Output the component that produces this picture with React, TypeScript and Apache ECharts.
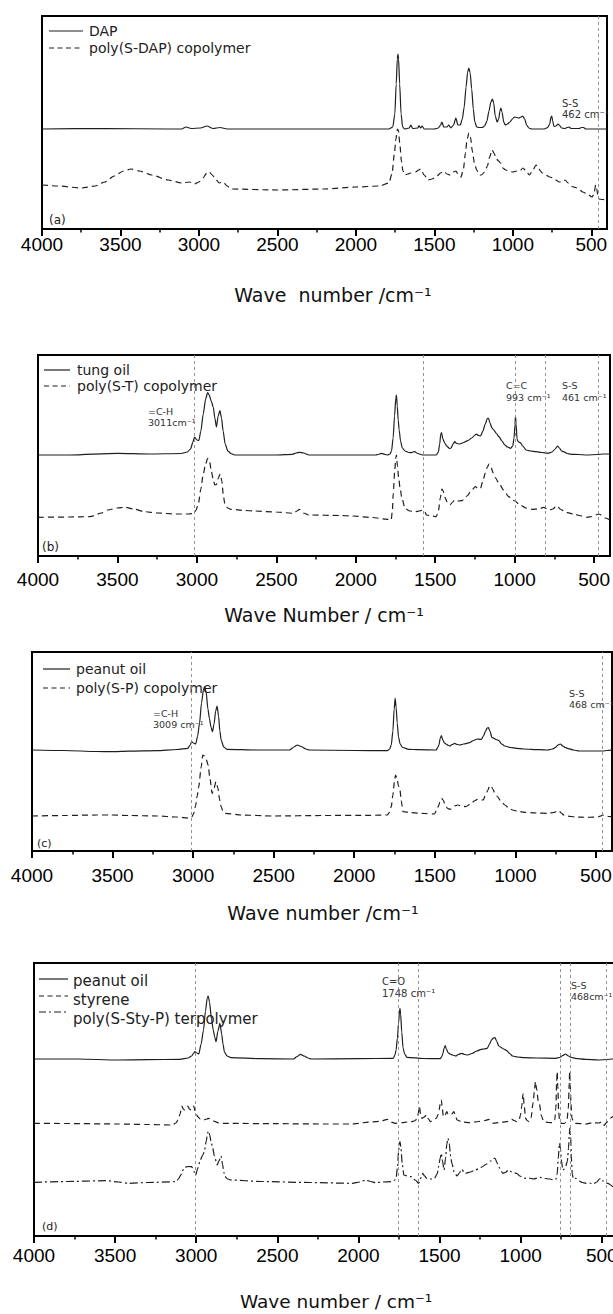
import React, { useEffect, useRef } from "react";
import * as echarts from "echarts";

type Pt = [number, number];

// ---------- axis ticks ----------
const tickValues = [4000, 3500, 3000, 2500, 2000, 1500, 1000, 500];
const minorTickValues = [3750, 3250, 2750, 2250, 1750, 1250, 750];

// ---------- panel (a) ----------
const dapA: Pt[] = [[4000,100],[3600,100.5],[3200,100],[3110,100],[3083,102],[3050,100.5],[2990,101],[2949,103],[2910,100.5],[2865,101.5],[2820,100],[2000,100],[1790,100],[1765,102],[1752,115],[1743,145],[1736,170],[1732,175],[1728,170],[1721,145],[1712,115],[1702,102],[1690,100],[1660,101],[1650,104],[1638,100.5],[1605,101],[1598,103.5],[1588,101],[1578,103],[1565,100],[1500,100],[1475,101],[1460,104],[1452,107],[1440,102],[1420,102],[1408,104],[1395,101],[1378,104],[1363,111],[1350,104],[1335,104],[1322,110],[1310,122],[1298,142],[1288,157],[1280,161],[1272,156],[1262,140],[1252,120],[1242,107],[1230,102],[1215,101.5],[1195,101.5],[1180,103],[1165,108],[1152,118],[1140,127],[1130,130],[1122,126],[1112,113],[1100,107],[1090,110],[1082,118],[1076,121],[1069,117],[1058,107],[1048,104],[1035,105],[1018,107],[1003,110],[990,112],[975,111.5],[962,111],[948,112],[937,113],[925,110],[912,104],[898,101],[880,100],[800,100],[778,101.5],[765,105],[757,112],[752,113],[746,108],[738,102.5],[725,103],[712,105],[704,104],[690,101],[670,100.5],[652,101.5],[642,102],[628,100.5],[600,100.5],[578,100.5],[562,101.5],[550,101.5],[535,100],[400,100]];
const polySDAP: Pt[] = [[4000,44],[3900,43],[3745,41],[3660,43],[3600,47],[3540,53],[3480,58],[3433,60],[3380,58],[3300,54],[3197,49],[3108,46],[3060,47],[3030,45],[3000,47],[2975,51],[2950,56],[2935,57],[2915,54],[2895,50],[2870,46],[2847,47],[2820,43],[2796,40],[2500,39],[2200,40],[2000,42],[1850,43],[1790,46],[1770,55],[1755,75],[1745,90],[1735,100],[1728,98],[1720,85],[1710,68],[1700,58],[1688,54],[1670,55],[1650,56],[1620,57],[1600,59],[1588,60],[1565,54],[1540,49],[1515,50],[1490,52],[1460,56],[1440,58],[1420,55],[1400,54],[1380,57],[1363,58],[1345,54],[1330,52],[1315,60],[1302,76],[1292,89],[1280,96],[1270,92],[1258,78],[1245,66],[1230,59],[1212,54],[1200,54],[1180,57],[1162,63],[1148,72],[1132,79],[1120,76],[1105,70],[1090,68],[1078,66],[1064,61],[1045,59],[1020,57.5],[1000,57],[975,58],[955,58],[936,61],[915,58],[895,54],[875,58],[852,64],[835,60],[812,56],[790,54],[765,52],[740,51],[726,49],[705,47],[682,47],[667,49],[648,46],[625,42.5],[600,41.5],[580,40],[555,37],[525,35],[495,32],[483,35],[472,44],[465,40],[458,33],[450,30],[430,29.5],[400,29]];
const refLinesA = [455];

// ---------- panel (b) ----------
const tungOil: Pt[] = [[4000,101],[3800,101],[3500,102.7],[3300,102],[3100,102.5],[3060,104],[3040,107],[3025,114],[3015,119],[3000,116],[2988,115.5],[2975,125],[2960,142],[2945,157],[2932,163.5],[2922,161],[2910,155],[2897,149],[2887,138],[2877,129],[2866,140],[2855,145.5],[2845,138],[2835,125],[2822,112],[2805,105],[2786,102.5],[2762,101],[2500,101],[2400,101.7],[2375,103],[2355,103.7],[2330,103],[2294,101],[2100,101],[1875,101],[1850,102],[1838,102.7],[1815,101.5],[1800,101],[1785,102],[1775,105],[1765,118],[1756,140],[1748,158],[1744,161],[1739,150],[1733,136],[1727,126],[1718,115],[1707,108],[1690,105],[1665,103.5],[1653,103.3],[1640,104],[1629,104.3],[1610,102.5],[1580,101],[1493,101],[1480,104],[1472,112],[1465,122],[1460,123.3],[1452,117],[1440,113],[1428,110],[1410,107.5],[1400,108],[1388,112],[1377,114.3],[1365,112.5],[1346,112],[1320,113.5],[1296,115.3],[1270,118],[1250,121],[1240,122],[1228,120.5],[1215,120],[1200,125],[1185,132],[1172,137.5],[1165,137.7],[1155,133],[1143,128],[1131,126],[1115,122.5],[1099,119.3],[1080,115],[1062,111],[1045,109],[1025,107.7],[1012,110],[1004,118],[998,131],[995,140],[991,132],[985,117],[978,114.3],[964,113.3],[950,110],[927,106],[900,105],[865,104.3],[830,103.5],[791,102.7],[765,104],[745,107],[730,110],[718,108],[705,105],[693,104.3],[670,102.5],[644,101.7],[600,101.5],[545,101],[480,101.5],[440,102],[400,102]];
const polyST: Pt[] = [[4000,38.7],[3800,39],[3673,39.3],[3600,43],[3560,46],[3500,48],[3451,48.7],[3400,47],[3328,44.3],[3250,43],[3131,42],[3050,42],[3020,42.7],[3005,46],[2990,53],[2975,67],[2960,82],[2945,92],[2932,97.7],[2920,94],[2908,84],[2897,76],[2887,71],[2877,71.5],[2865,78],[2853,82],[2843,75],[2833,60],[2823,51],[2805,48],[2786,46.7],[2700,45.5],[2638,45],[2500,44],[2392,42.7],[2370,45],[2355,46.7],[2330,43],[2294,41],[2100,40.5],[2023,40],[1900,38.5],[1801,36.7],[1777,36],[1770,45],[1764,62.7],[1755,85],[1748,98],[1744,101],[1738,90],[1730,78],[1722,69],[1710,58],[1690,47.7],[1660,45],[1629,44.3],[1600,45],[1580,46],[1565,44],[1555,41],[1520,40],[1493,39.3],[1480,45],[1468,58],[1458,67],[1450,65],[1440,59],[1425,54],[1407,51],[1390,54],[1377,56],[1360,55],[1333,55.3],[1300,60],[1270,66],[1247,69.3],[1230,67.5],[1215,67.7],[1200,75],[1185,83],[1172,89],[1161,92],[1150,89],[1135,83],[1120,78],[1099,72.7],[1070,66],[1038,59.3],[1000,55],[964,51],[930,48],[890,46.7],[850,47],[816,48.7],[795,47],[779,46],[760,47],[740,49.5],[730,50],[715,47],[690,45],[668,43.3],[620,41.5],[580,40],[545,38.7],[510,39.5],[480,41.5],[471,42],[455,41],[430,38],[400,36]];
const refLinesB = [3015, 1578, 995, 805, 472];

// ---------- panel (c) ----------
const peanutOilC: Pt[] = [[4000,101],[3800,100.5],[3600,99.5],[3494,99.3],[3400,99.8],[3227,100.3],[3100,101.5],[3033,102.7],[3018,106],[3009,109.3],[2998,108],[2984,107],[2972,115],[2960,128],[2948,148],[2935,162],[2928,164.3],[2920,160],[2908,142],[2899,132.7],[2889,124],[2880,119.3],[2870,127],[2860,140],[2851,145],[2842,135],[2834,120],[2826,111],[2810,104],[2790,101.7],[2600,101],[2401,101],[2375,104],[2353,106],[2330,104.5],[2300,102],[2280,101],[2000,100.5],[1794,100.3],[1780,102],[1770,106],[1760,120],[1752,142],[1746,152.7],[1740,144],[1733,128],[1725,114],[1715,107],[1700,103.5],[1661,101.7],[1600,101.3],[1491,101],[1480,104],[1474,106],[1466,113],[1459,115.3],[1450,111],[1440,108],[1430,107],[1415,105.5],[1406,105],[1393,106.5],[1376,107.7],[1360,106.5],[1345,106],[1320,107],[1284,108.3],[1260,110.5],[1236,112],[1222,111.7],[1211,111.7],[1198,115],[1185,120],[1175,123],[1167,123.3],[1158,120],[1145,113.5],[1133,112.7],[1118,111.5],[1102,110.3],[1085,107],[1065,105],[1030,103.5],[993,102.7],[950,102],[850,101.3],[798,101],[770,102],[750,103.7],[735,106],[721,107],[705,105],[690,103.5],[677,102.7],[640,101],[604,100],[500,100],[458,100],[430,100.5],[400,101]];
const polySP: Pt[] = [[4000,35],[3800,35.5],[3600,36],[3518,36],[3400,35.5],[3227,35],[3100,34],[3021,32.7],[3008,34],[2996,37.7],[2985,45],[2975,55],[2965,64.3],[2950,84],[2940,96],[2930,95],[2918,91.5],[2907,86],[2895,72],[2882,57.7],[2870,63],[2858,69.3],[2846,63],[2836,52],[2826,44.3],[2815,40],[2802,37.7],[2700,36],[2499,35],[2200,35.5],[1900,35.7],[1794,36],[1785,38],[1770,44.3],[1760,56],[1750,70],[1744,76],[1735,73],[1725,65],[1716,61],[1708,50],[1697,39.3],[1648,38.3],[1560,37.5],[1503,37],[1490,40],[1479,44.3],[1468,49],[1458,52.7],[1448,51],[1435,46],[1420,42.5],[1406,41.7],[1390,43],[1370,45.5],[1357,46],[1335,45],[1308,44.3],[1280,47],[1250,50.5],[1236,51.7],[1220,51.2],[1199,51],[1185,56],[1170,61],[1160,65],[1151,65.3],[1140,62],[1125,57],[1114,55],[1090,50],[1065,46],[1040,43],[1017,41],[980,39.5],[944,38.7],[870,38],[798,37.7],[760,38.5],[745,39.5],[730,40.3],[715,38],[700,36],[677,35],[630,34],[555,33.7],[520,33.8],[483,34.3],[470,35],[458,36],[440,35],[420,34.5],[400,34.3]];
const refLinesC = [3013, 460];

// ---------- panel (d) ----------
const peanutOilD: Pt[] = [[4000,177],[3727,177],[3486,176],[3300,176.3],[3100,176.7],[3050,178],[3028,180],[3015,183],[3008,184.3],[2996,183],[2984,182],[2970,192],[2955,206],[2943,225],[2932,238],[2926,240],[2918,234],[2906,217],[2895,206],[2886,199],[2878,194.3],[2866,205],[2854,212.7],[2843,202],[2835,192],[2826,184],[2810,180],[2786,178.3],[2600,177.3],[2400,177],[2378,179.5],[2357,181.7],[2335,180],[2310,178],[2292,177],[2000,177.3],[1785,177.7],[1775,181],[1768,186],[1760,198],[1752,214],[1747,224],[1744,227.7],[1740,222],[1733,204],[1725,188],[1715,182],[1701,178.7],[1600,177.5],[1496,177.3],[1486,179.5],[1479,182.7],[1472,188],[1465,190.3],[1458,187],[1448,183.5],[1436,182],[1420,181],[1399,180],[1385,181.5],[1363,182.7],[1345,181.5],[1327,181],[1300,182.5],[1270,185],[1243,186.7],[1225,187],[1206,187.7],[1192,192],[1178,196.5],[1168,198],[1158,198.3],[1148,195],[1135,190],[1122,188.7],[1105,187],[1086,185.3],[1065,182],[1050,180],[1020,179],[977,178.3],[900,178],[784,177.7],[760,178.5],[740,180.5],[724,182],[705,180],[685,178.5],[664,177.7],[600,176.7],[519,176],[470,176.5],[433,177],[400,177]];
const styrene: Pt[] = [[4000,112.7],[3800,112.5],[3486,112],[3300,111.5],[3148,111],[3125,113],[3112,116],[3100,122],[3088,130],[3080,127],[3071,126],[3062,128],[3052,130],[3042,127],[3032,126],[3024,128],[3016,130],[3005,124],[2991,119.3],[2975,117],[2955,116],[2935,117],[2919,117.7],[2900,115.5],[2883,114.3],[2860,113],[2835,112.7],[2500,112.3],[2200,112],[2039,112],[1990,112.8],[1954,113.7],[1920,114],[1894,114.3],[1860,115],[1822,116.7],[1800,114],[1773,112.7],[1730,113.3],[1700,114],[1677,114.3],[1655,115],[1641,116.7],[1632,122],[1624,129.3],[1617,122],[1609,117.7],[1595,119],[1580,121],[1568,117],[1557,114.3],[1540,116],[1520,117.7],[1510,121],[1503,126],[1495,133],[1489,136],[1483,128],[1477,119.3],[1466,121],[1455,124.3],[1448,122],[1440,121],[1425,122],[1411,124.3],[1402,120],[1392,116],[1360,114],[1315,113.3],[1260,114.5],[1220,115.5],[1194,116.7],[1180,114.5],[1170,112.7],[1130,113.5],[1086,114.3],[1070,115.5],[1054,116.7],[1040,115.5],[1025,114.3],[1010,116],[1001,121],[993,130],[985,142.7],[978,130],[970,117.7],[960,115.5],[948,114.3],[936,118],[924,132.7],[915,145],[909,154.3],[905,154.3],[900,146],[892,135],[885,132.7],[872,120],[857,114.3],[830,113.5],[800,113.3],[790,116],[783,128],[778,155],[775,164.3],[771,150],[766,125],[760,115],[750,112.7],[730,112.5],[715,115],[706,128],[701,152],[698,164.3],[694,150],[690,132],[684,118],[675,114],[660,112.7],[600,112],[554,113.3],[520,113],[500,114],[484,110.7],[474,113],[460,115],[445,118],[431,119.3],[415,120],[400,118]];
const polySStyP: Pt[] = [[4000,53.7],[3800,54.5],[3558,55.3],[3480,54],[3414,52.7],[3300,53.5],[3124,54.3],[3110,57],[3095,61],[3082,66],[3071,68.7],[3050,69.5],[3028,69.3],[3015,65],[3004,61],[2990,68],[2975,76],[2960,81],[2950,84.3],[2938,95],[2930,103],[2924,105],[2917,101],[2908,94],[2900,89.3],[2888,80],[2871,71],[2860,75],[2847,80],[2838,72],[2830,64],[2823,59.3],[2805,57],[2786,56],[2600,54.5],[2300,53.5],[2039,52.7],[1990,54],[1954,56],[1925,54.5],[1894,53.3],[1850,54],[1797,54.3],[1775,56],[1768,57.7],[1760,68],[1752,85],[1748,92],[1744,94.3],[1738,88],[1730,72],[1720,61],[1700,60],[1677,59.3],[1650,56],[1629,52.7],[1615,58],[1604,62.7],[1592,60],[1580,57.7],[1555,57],[1532,57.7],[1515,62],[1505,70],[1496,78],[1489,82.7],[1482,75],[1472,66],[1463,78],[1455,92],[1448,97.7],[1440,92],[1432,80],[1424,72.7],[1410,64],[1392,60],[1378,63],[1363,66.7],[1350,64],[1339,62.7],[1310,64],[1280,66],[1243,68.7],[1210,72],[1185,75],[1168,77.5],[1158,77.7],[1145,73],[1130,68],[1110,62.7],[1095,63.5],[1074,66],[1055,64],[1040,63],[1025,62.7],[1005,60],[977,57.7],[950,58],[920,57],[881,58.7],[850,57.5],[820,57],[796,56],[782,57],[775,62],[768,78],[761,92.7],[755,88],[748,75],[740,66],[732,67],[722,70],[712,75],[705,88],[700,102],[697,108],[692,100],[688,80],[682,62],[675,57],[659,57.7],[640,55],[620,53.5],[597,52.7],[575,53],[554,52],[530,54],[515,57],[505,57.7],[492,55],[475,53],[462,52.7],[445,51],[431,49.3],[415,47.5],[400,46]];
const refLinesD = [3005, 1752, 1630, 758, 695, 471];

// ---------- styles ----------
const INK = "#1e1e1e";
const SOLID: any = "solid";
const DASH: any = [6, 4];
const DASHDOT: any = [8, 3, 2, 3];
const TXT_FONT = '"DejaVu Sans", Verdana, sans-serif';
const TICK_FONT = '"Liberation Sans", Arial, sans-serif';

const panels = [
  { grid: { left: 42, top: 16, width: 565, height: 213 }, labelMargin: 6, refs: refLinesA,
    series: [{ name: "DAP", data: dapA, dash: SOLID }, { name: "poly(S-DAP) copolymer", data: polySDAP, dash: DASH }] },
  { grid: { left: 38, top: 355, width: 572, height: 201 }, labelMargin: 14, refs: refLinesB,
    series: [{ name: "tung oil", data: tungOil, dash: SOLID }, { name: "poly(S-T) copolymer", data: polyST, dash: DASH }] },
  { grid: { left: 32, top: 652, width: 580, height: 199 }, labelMargin: 15, refs: refLinesC,
    series: [{ name: "peanut oil", data: peanutOilC, dash: SOLID }, { name: "poly(S-P) copolymer", data: polySP, dash: DASH }] },
  { grid: { left: 34, top: 963, width: 584, height: 273 }, labelMargin: 10, refs: refLinesD,
    series: [{ name: "peanut oil", data: peanutOilD, dash: SOLID }, { name: "styrene", data: styrene, dash: DASH }, { name: "poly(S-Sty-P) terpolymer", data: polySStyP, dash: DASHDOT }] },
];

function txt(x: number, y: number, text: string, size: number, align: string = "left", color: string = "#222", family: string = TXT_FONT) {
  return {
    type: "text", x, y, silent: true,
    style: { text, fill: color, fontSize: size, fontFamily: family, align, verticalAlign: "middle" },
  };
}
function seg(x1: number, x2: number, y: number, dash: any) {
  return {
    type: "line", silent: true,
    shape: { x1, y1: y, x2, y2: y },
    style: { stroke: INK, lineWidth: 1.2, lineDash: dash === "solid" ? null : dash },
  };
}

function buildOption() {
  const grid: any[] = [];
  const xAxis: any[] = [];
  const yAxis: any[] = [];
  const series: any[] = [];
  panels.forEach((p, i) => {
    grid.push({
      ...p.grid, show: true, borderColor: "#000", borderWidth: 2, backgroundColor: "transparent",
      containLabel: false, outerBoundsMode: "none",
    });
    xAxis.push({
      type: "value", gridIndex: i, min: 400, max: 4000, inverse: true, position: "bottom",
      axisLine: { show: false }, splitLine: { show: false },
      axisTick: { show: true, inside: false, length: 7, customValues: tickValues, lineStyle: { color: "#000", width: 2 } },
      axisLabel: {
        show: true, customValues: tickValues, margin: p.labelMargin, fontSize: 19, fontFamily: TICK_FONT, color: "#000",
        formatter: (v: number) => String(v),
      },
    });
    xAxis.push({
      type: "value", gridIndex: i, min: 400, max: 4000, inverse: true, position: "bottom", offset: 0,
      axisLine: { show: false }, splitLine: { show: false }, axisLabel: { show: false },
      axisTick: { show: true, inside: false, length: 3.5, customValues: minorTickValues, lineStyle: { color: "#000", width: 1.5 } },
    });
    yAxis.push({ type: "value", gridIndex: i, min: 0, max: p.grid.height, show: false });
    p.series.forEach((s, j) => {
      const ser: any = {
        type: "line", name: s.name, xAxisIndex: 2 * i, yAxisIndex: i, data: s.data,
        symbol: "none", showSymbol: false, smooth: 0.25, smoothMonotone: "x", silent: true,
        lineStyle: { color: INK, width: 1.2, type: s.dash },
        z: 3,
      };
      if (j === 0) {
        ser.markLine = {
          silent: true, symbol: ["none", "none"], label: { show: false },
          lineStyle: { color: "#888", width: 0.9, type: [3, 3] },
          data: p.refs.map((v) => ({ xAxis: v })),
        };
      }
      series.push(ser);
    });
  });

  const elements: any[] = [
    // panel (a)
    seg(49, 83, 31, SOLID), txt(89, 31, "DAP", 14),
    seg(49, 83, 48, [5, 3.5]), txt(89, 48, "poly(S-DAP) copolymer", 14),
    txt(562, 103, "S-S", 10, "left", "#333"), txt(562, 114, "462 cm⁻¹", 10, "left", "#333"),
    txt(49, 220, "(a)", 12),
    txt(333, 295, "Wave  number /cm⁻¹", 19, "center", "#111"),
    // panel (b)
    seg(44, 70, 370, SOLID), txt(77, 370, "tung oil", 14),
    seg(44, 70, 386, [5, 3.5]), txt(77, 386, "poly(S-T) copolymer", 14),
    txt(148, 411, "=C-H", 9.5, "left", "#333"), txt(148, 422, "3011cm⁻¹", 9.5, "left", "#333"),
    txt(506, 385, "C=C", 9.5, "left", "#333"), txt(506, 397, "993 cm⁻¹", 9.5, "left", "#333"),
    txt(562, 385, "S-S", 9.5, "left", "#333"), txt(562, 397, "461 cm⁻¹", 9.5, "left", "#333"),
    txt(42, 547, "(b)", 12),
    txt(324, 615, "Wave Number / cm⁻¹", 19, "center", "#111"),
    // panel (c)
    seg(43, 70, 669, SOLID), txt(76, 669, "peanut oil", 14),
    seg(43, 70, 688, [5, 3.5]), txt(76, 688, "poly(S-P) copolymer", 14),
    txt(153, 713, "=C-H", 9.5, "left", "#333"), txt(153, 724, "3009 cm⁻¹", 9.5, "left", "#333"),
    txt(569, 693, "S-S", 9.5, "left", "#333"), txt(569, 704, "468 cm⁻¹", 9.5, "left", "#333"),
    txt(37, 843, "(c)", 11),
    txt(323, 913, "Wave number /cm⁻¹", 19, "center", "#111"),
    // panel (d)
    seg(39, 68, 979, SOLID), txt(73, 981, "peanut oil", 15),
    seg(39, 68, 996, [5, 3.5]), txt(73, 1000, "styrene", 15),
    seg(39, 68, 1012, [7, 3, 2, 3]), txt(73, 1019, "poly(S-Sty-P) terpolymer", 15),
    txt(382, 981, "C=O", 10, "left", "#333"), txt(382, 993, "1748 cm⁻¹", 10, "left", "#333"),
    txt(571, 985, "S-S", 9.5, "left", "#333"), txt(571, 996, "468cm⁻¹", 9.5, "left", "#333"),
    txt(42, 1226, "(d)", 11),
    txt(336, 1301, "Wave number / cm⁻¹", 18.5, "center", "#111"),
  ];

  return {
    animation: false,
    backgroundColor: "#fff",
    grid, xAxis, yAxis, series,
    graphic: { elements },
  };
}

export default function App() {
  const ref = useRef<HTMLDivElement>(null);
  useEffect(() => {
    if (!ref.current) return;
    const chart = echarts.init(ref.current, null, { renderer: "svg" });
    chart.setOption(buildOption() as any);
    return () => chart.dispose();
  }, []);
  return (
    <div
      ref={ref}
      style={{ position: "absolute", left: 0, top: 0, width: 613, height: 1314, background: "#fff", overflow: "hidden" }}
    />
  );
}
